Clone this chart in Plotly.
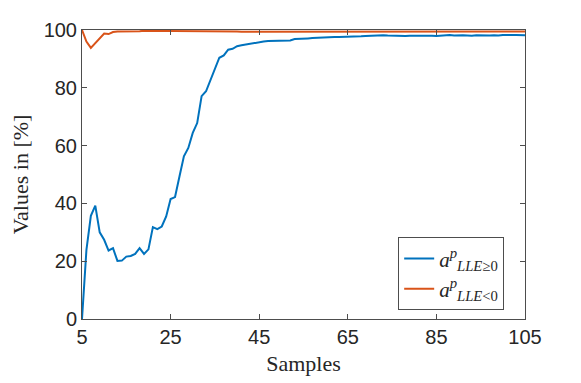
import plotly.graph_objects as go

# samples on the x axis
samples = list(range(5, 106))

# a^p for LLE >= 0 (blue)
a_lle_pos = [0.0, 23.9, 35.7, 39.2, 30.0, 27.4, 23.7, 24.5, 20.1, 20.2,
             21.6, 21.8, 22.5, 24.5, 22.5, 24.1, 31.8, 31.1, 32.0, 35.5,
             41.5, 42.2, 49.3, 56.3, 59.2, 64.4, 67.8, 77.1, 78.8, 82.8,
             86.9, 90.4, 91.2, 93.2, 93.5, 94.4, 94.7, 95.0, 95.3, 95.6,
             95.8, 96.0, 96.2, 96.2, 96.2, 96.2, 96.2, 96.4, 96.9, 96.9,
             97.0, 97.1, 97.2, 97.3, 97.5, 97.5, 97.6, 97.6, 97.6, 97.6,
             97.6, 97.7, 97.7, 97.8, 97.9, 98.0, 98.0, 98.1, 98.2, 98.1,
             98.0, 98.0, 97.9, 97.9, 98.0, 98.0, 98.1, 98.2, 98.1, 98.0,
             97.9, 98.0, 98.2, 98.3, 98.1, 98.2, 98.2, 98.1, 98.0, 98.2,
             98.1, 98.0, 98.1, 98.2, 98.1, 98.3, 98.4, 98.3, 98.3, 98.2,
             98.2]

# a^p for LLE < 0 (orange)
a_lle_neg = [100.0, 96.0, 93.8, 95.6, 97.2, 98.8, 98.6, 99.3, 99.5, 99.5,
             99.4, 99.6, 99.6, 99.6, 99.7, 99.7, 99.6, 99.6, 99.6, 99.7,
             99.7, 99.7, 99.6, 99.6, 99.6, 99.6, 99.6, 99.6, 99.6, 99.6,
             99.6, 99.6, 99.5, 99.5, 99.5, 99.5, 99.4, 99.4, 99.3, 99.3,
             99.3, 99.3, 99.3, 99.3, 99.3, 99.3, 99.3, 99.3, 99.3, 99.3,
             99.3, 99.3, 99.3, 99.3, 99.3, 99.3, 99.4, 99.4, 99.4, 99.4,
             99.5, 99.5, 99.5, 99.5, 99.5, 99.5, 99.5, 99.5, 99.5, 99.5,
             99.5, 99.5, 99.5, 99.5, 99.5, 99.5, 99.5, 99.5, 99.5, 99.5,
             99.5, 99.5, 99.5, 99.5, 99.5, 99.5, 99.5, 99.5, 99.5, 99.5,
             99.5, 99.5, 99.5, 99.5, 99.5, 99.5, 99.5, 99.5, 99.5, 99.5,
             99.5]

x_ticks = [5, 25, 45, 65, 85, 105]
y_ticks = [0, 20, 40, 60, 80, 100]

fig = go.Figure()
fig.add_trace(go.Scatter(
    x=samples, y=a_lle_pos, mode='lines',
    line=dict(color='#0072BD', width=2),
    name='<i>a</i><sup><i>p</i></sup><sub><i>LLE</i>≥0</sub>'))
fig.add_trace(go.Scatter(
    x=samples, y=a_lle_neg, mode='lines',
    line=dict(color='#D95319', width=2),
    name='<i>a</i><sup><i>p</i></sup><sub><i>LLE</i><0</sub>'))

axis_style = dict(
    showline=True, mirror='ticks', linecolor='#4d4d4d', linewidth=1,
    ticks='inside', ticklen=5, tickcolor='#4d4d4d',
    showgrid=False, zeroline=False, automargin=False,
    tickfont=dict(family='Liberation Sans', size=20, color='#262626'),
)

fig.update_xaxes(range=[5, 105], tickvals=x_ticks,
                 title=dict(text='Samples', standoff=8,
                            font=dict(family='Liberation Serif', size=22, color='#262626')),
                 **axis_style)
fig.update_yaxes(range=[0, 100], tickvals=y_ticks,
                 title=dict(text='Values in [%]', standoff=15,
                            font=dict(family='Liberation Serif', size=22, color='#262626')),
                 **axis_style)

# the page body adds an 8px margin, so the figure is a bit smaller than the window
fig.update_layout(
    width=573, height=375,
    margin=dict(l=74, r=56, t=22, b=64),
    plot_bgcolor='white', paper_bgcolor='white',
    showlegend=True,
    legend=dict(x=0.953, y=0.03, xanchor='right', yanchor='bottom',
                bgcolor='white', bordercolor='#4d4d4d', borderwidth=1,
                font=dict(family='Liberation Serif', size=21, color='#262626'),
                tracegroupgap=0, itemwidth=30),
)

fig.write_html("out.html")
